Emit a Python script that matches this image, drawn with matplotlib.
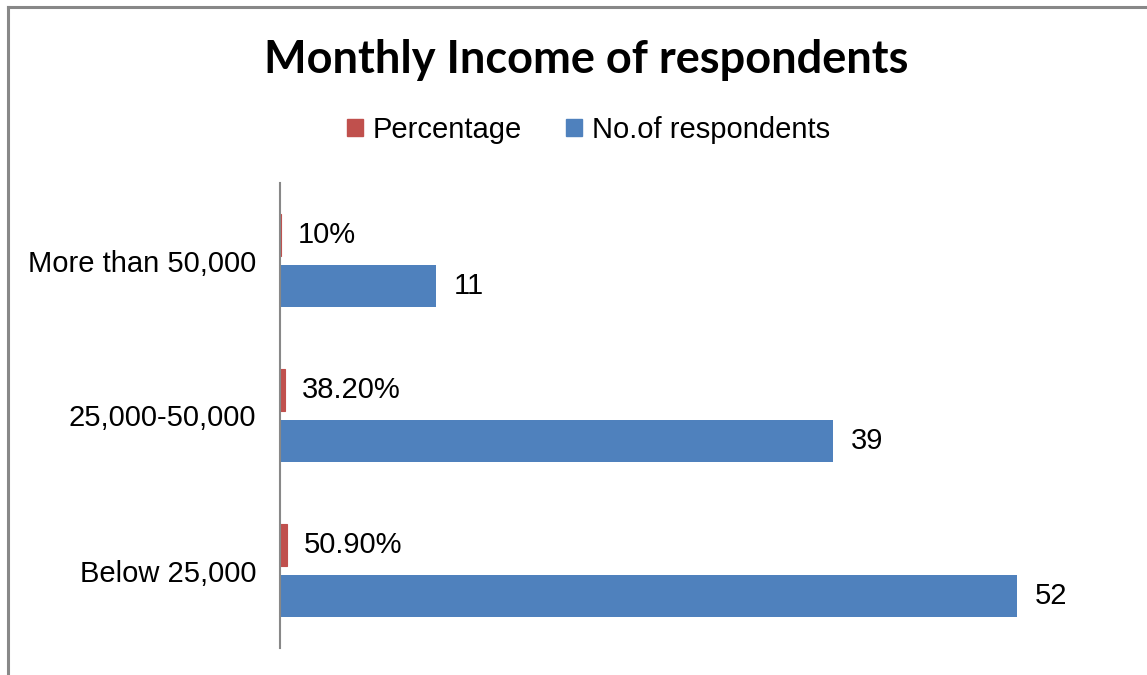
import matplotlib.pyplot as plt
import matplotlib.patches as mpatches
from matplotlib.lines import Line2D

# Income groups, bottom to top
categories = ["Below 25,000", "25,000-50,000", "More than 50,000"]
respondents = [52, 39, 11]
percentage = [0.509, 0.382, 0.10]
percentage_labels = ["50.90%", "38.20%", "10%"]

blue = "#4F81BD"
red = "#C0504D"

plt.rcParams["font.family"] = ["Liberation Sans", "DejaVu Sans"]

fig = plt.figure(figsize=(11.47, 6.75), dpi=100)
ax = fig.add_axes([280 / 1147, 1 - 648 / 675, 822 / 1147, 465 / 675])

ypos = list(range(len(categories)))
h = 0.27
off = 0.165

ax.barh([y - off for y in ypos], respondents, height=h, color=blue, label="No.of respondents")
ax.barh([y + off for y in ypos], percentage, height=h, color=red, edgecolor=red,
        linewidth=0.8, label="Percentage")

# value labels next to each bar
for y, v in zip(ypos, respondents):
    ax.annotate(str(v), (v, y - off), xytext=(13, 0), textcoords="offset points",
                va="center", ha="left", fontsize=21)
for y, v, s in zip(ypos, percentage, percentage_labels):
    ax.annotate(s, (v, y + off), xytext=(12, 0), textcoords="offset points",
                va="center", ha="left", fontsize=21)

ax.set_xlim(0, 58)
ax.set_ylim(-0.5, 2.5)
ax.set_yticks(ypos)
ax.set_yticklabels(categories, fontsize=21)
ax.tick_params(axis="y", length=0, pad=17)
ax.set_xticks([])
for side in ["top", "right", "bottom"]:
    ax.spines[side].set_visible(False)
ax.spines["left"].set_color("#888888")
ax.spines["left"].set_linewidth(1.5)

fig.text(0.511, 1 - 60 / 675, "Monthly Income of respondents", ha="center", va="center",
         fontsize=32.5, fontweight="bold", family=["Lato", "DejaVu Sans"])

handles = [mpatches.Patch(color=red, label="Percentage"),
           mpatches.Patch(color=blue, label="No.of respondents")]
fig.legend(handles=handles, loc="center", bbox_to_anchor=(0.513, 1 - 130 / 675), ncol=2,
           frameon=False, fontsize=21, handlelength=0.55, handleheight=0.55,
           handletextpad=0.35, columnspacing=1.5)

# outer frame (top and left edges visible)
fig.add_artist(Line2D([8 / 1147, 1.01], [1 - 7 / 675, 1 - 7 / 675], color="#888888", lw=2.2))
fig.add_artist(Line2D([8 / 1147, 8 / 1147], [-0.01, 1 - 7 / 675], color="#888888", lw=2.2))

fig.savefig("out.png", dpi=100)
